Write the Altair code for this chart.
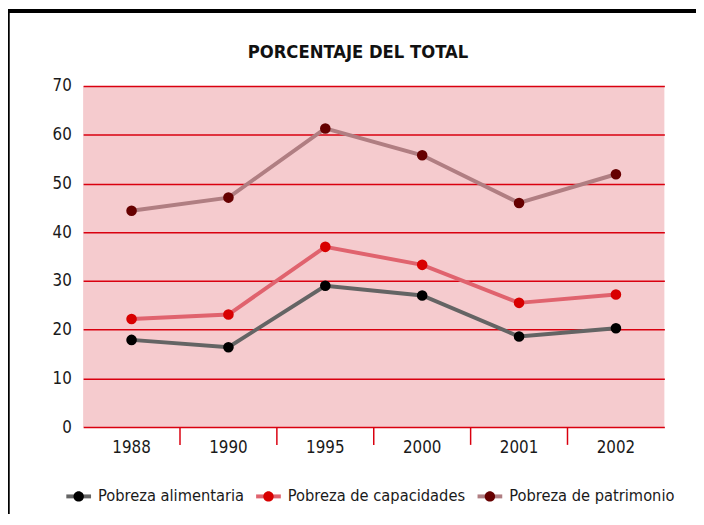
import altair as alt
import pandas as pd

# ---- data ----
years = ["1988", "1990", "1995", "2000", "2001", "2002"]
series = ["Pobreza alimentaria", "Pobreza de capacidades", "Pobreza de patrimonio"]
alimentaria = [17.9, 16.4, 29.0, 27.0, 18.6, 20.3]
capacidades = [22.2, 23.1, 37.0, 33.3, 25.5, 27.2]
patrimonio = [44.4, 47.1, 61.3, 55.8, 46.0, 51.9]
y_ticks = [0, 10, 20, 30, 40, 50, 60, 70]
title_text = "PORCENTAJE DEL TOTAL"

line_colors = ["#646464", "#E0636E", "#B07E82"]
point_colors = ["#000000", "#D80000", "#660000"]

rows = []
for s, vals in zip(series, [alimentaria, capacidades, patrimonio]):
    for yr, v in zip(years, vals):
        rows.append({"anio": yr, "serie": s, "serie_p": s, "valor": v})
df = pd.DataFrame(rows)
sep_df = pd.DataFrame({"anio": years[1:]})
one = pd.DataFrame({"t": [title_text]})

W, H = 588, 345
PAD_L, PAD_T = 76, 76
TOTAL_W, TOTAL_H = 696, 509
FONT = "DejaVu Sans Condensed"
RED = "#D9000F"
TXT = "#1A1A1A"

# legend symbols: same bounding extents for both legends so they line up exactly
LINE_SYM = "M-1,0L1,0M0,-0.42M0,0.42"
DOT_SYM = "M-1,0M1,0M0.42,0A0.42,0.42 0 1,1 -0.42,0A0.42,0.42 0 1,1 0.42,0Z"

leg_common = dict(title=None, orient="none", legendX=-19, legendY=400.5,
                  direction="horizontal", symbolSize=625, symbolStrokeWidth=4,
                  labelFont=FONT, labelFontSize=16.5, labelOffset=5,
                  columnPadding=4, labelLimit=300)

x_scale = alt.Scale(type="band", domain=years, paddingInner=0, paddingOuter=0)
x_axis = alt.Axis(title=None, ticks=False, domain=False, grid=False, labelPadding=13,
                  labelFontSize=17, labelFont=FONT, labelColor=TXT, labelAngle=0)
y_enc = alt.Y("valor:Q", scale=alt.Scale(domain=[0, 70], nice=False),
              axis=alt.Axis(title=None, values=y_ticks, ticks=False, domain=False, grid=True,
                            gridColor=RED, gridWidth=1.5, labelPadding=12, labelFontSize=17,
                            labelFont=FONT, labelColor=TXT))

lines = alt.Chart(df).mark_line(strokeWidth=4).encode(
    x=alt.X("anio:N", scale=x_scale, axis=x_axis),
    y=y_enc,
    color=alt.Color("serie:N", sort=series,
                    scale=alt.Scale(domain=series, range=line_colors),
                    legend=alt.Legend(symbolType=LINE_SYM, labelColor=TXT, zindex=1,
                                      **leg_common)),
)

points = alt.Chart(df).mark_circle(size=115, opacity=1).encode(
    x=alt.X("anio:N", scale=x_scale, axis=x_axis),
    y=y_enc,
    fill=alt.Fill("serie_p:N", sort=series,
                  scale=alt.Scale(domain=series, range=point_colors),
                  legend=alt.Legend(symbolType=DOT_SYM, symbolStrokeColor="transparent",
                                    labelOpacity=0, zindex=2, **leg_common)),
)

seps = alt.Chart(sep_df).mark_rule(color=RED, strokeWidth=1.5).encode(
    x=alt.X("anio:N", bandPosition=0, scale=x_scale, axis=x_axis),
    y=alt.value(H),
    y2=alt.value(H + 18),
)

title = alt.Chart(one).mark_text(font=FONT, fontSize=18.5, fontWeight="bold", color="#111111",
                                 align="center", baseline="alphabetic").encode(
    text="t:N", x=alt.value(278), y=alt.value(-28.5)
)

top_bar = alt.Chart(one).mark_rule(color="#000000", strokeWidth=4).encode(
    x=alt.value(-PAD_L), x2=alt.value(TOTAL_W - PAD_L), y=alt.value(-PAD_T)
)
left_bar = alt.Chart(one).mark_rule(color="#000000", strokeWidth=2.5).encode(
    x=alt.value(-PAD_L + 0.5), y=alt.value(-PAD_T), y2=alt.value(TOTAL_H - PAD_T)
)

chart = alt.layer(seps, lines, points, title, top_bar, left_bar).properties(
    width=W, height=H,
    autosize=alt.AutoSizeParams(type="none"),
    padding={"left": PAD_L, "top": PAD_T, "right": TOTAL_W - PAD_L - W,
             "bottom": TOTAL_H - PAD_T - H},
    background="#FFFFFF",
).resolve_scale(color="independent", fill="independent").configure_view(
    fill="#F5CBCE", stroke=None
)

chart.save("out.html", embed_options={"renderer": "svg", "actions": False})
